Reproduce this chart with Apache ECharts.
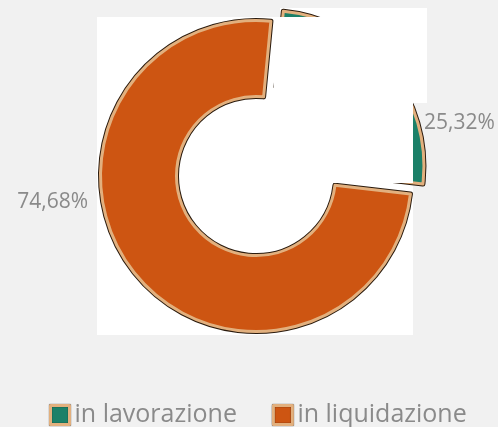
<!DOCTYPE html>
<html>
<head>
<meta charset="utf-8">
<script src="https://cdn.jsdelivr.net/npm/echarts@6/dist/echarts.min.js"></script>
<style>
html,body{margin:0;padding:0;background:#f1f1f1;}
#chart{width:498px;height:427px;}
</style>
</head>
<body>
<div id="chart"></div>
<script>
// ---- data ----
const categories = ['in lavorazione', 'in liquidazione'];
const values = [25.32, 74.68];
const selectedFlags = [true, false];

// ---- styles ----
const fillColors = ['#1b8068', '#cd5512'];
const tan = '#e2b07e';
const dark = '#2a1a0c';
const textGrey = '#8a8a8a';
const labelPos = [
  {x: 424, y: 123, align: 'left'},
  {x: 88, y: 202, align: 'right'}
];

const chart = echarts.init(document.getElementById('chart'), null, {renderer: 'canvas'});

function fmt(v) { return v.toFixed(2).replace('.', ',') + '%'; }

const topData = categories.map((c, i) => ({
  name: c, value: values[i], selected: selectedFlags[i],
  itemStyle: {color: fillColors[i]}
}));
const underData = categories.map((c, i) => ({
  name: c, value: values[i], selected: selectedFlags[i]
}));
const labelData = categories.map((c, i) => ({
  name: c, value: values[i]
}));

const common = {
  type: 'pie',
  center: [256, 176],
  radius: [79.5, 155.5],
  startAngle: 84.5,
  clockwise: true,
  selectedMode: 'multiple',
  selectedOffset: 16,
  avoidLabelOverlap: false,
  animation: false,
  emphasis: {disabled: true},
  labelLine: {show: false}
};

chart.setOption({
  backgroundColor: '#f1f1f1',
  animation: false,
  graphic: [
    {type: 'rect', z: -10, shape: {x: 97, y: 17, width: 316, height: 318}, style: {fill: '#ffffff'}},
    {type: 'rect', z: -10, shape: {x: 280, y: 8, width: 147, height: 95}, style: {fill: '#ffffff'}},
    {type: 'rect', z: 50, shape: {x: 274, y: 17, width: 139, height: 166}, style: {fill: '#ffffff'}}
  ],
  legend: {
    data: categories,
    left: 49,
    top: 402,
    padding: 0,
    icon: 'rect',
    itemWidth: 19,
    itemHeight: 19,
    itemGap: 35,
    selectedMode: false,
    textStyle: {fontFamily: 'Open Sans', fontSize: 25, lineHeight: 26, color: textGrey},
    itemStyle: {borderColor: tan, borderWidth: 3, shadowColor: '#000', shadowBlur: 1}
  },
  series: [
    Object.assign({}, common, {
      name: 'top',
      z: 3,
      data: topData,
      itemStyle: {borderColor: tan, borderWidth: 3},
      label: {show: false}
    }),
    Object.assign({}, common, {
      name: 'under',
      z: 2,
      data: underData,
      itemStyle: {color: dark, borderColor: dark, borderWidth: 5},
      label: {show: false}
    }),
    Object.assign({}, common, {
      name: 'labels',
      z: 60,
      silent: true,
      selectedMode: false,
      data: labelData,
      itemStyle: {color: 'rgba(0,0,0,0)', borderWidth: 0},
      label: {
        show: true,
        position: 'outside',
        formatter: p => fmt(p.value),
        fontFamily: 'Open Sans',
        fontSize: 21,
        color: textGrey
      },
      labelLayout: function (params) {
        const p = labelPos[params.dataIndex];
        return {x: p.x, y: p.y, align: p.align, verticalAlign: 'middle'};
      }
    })
  ]
});
</script>
</body>
</html>
